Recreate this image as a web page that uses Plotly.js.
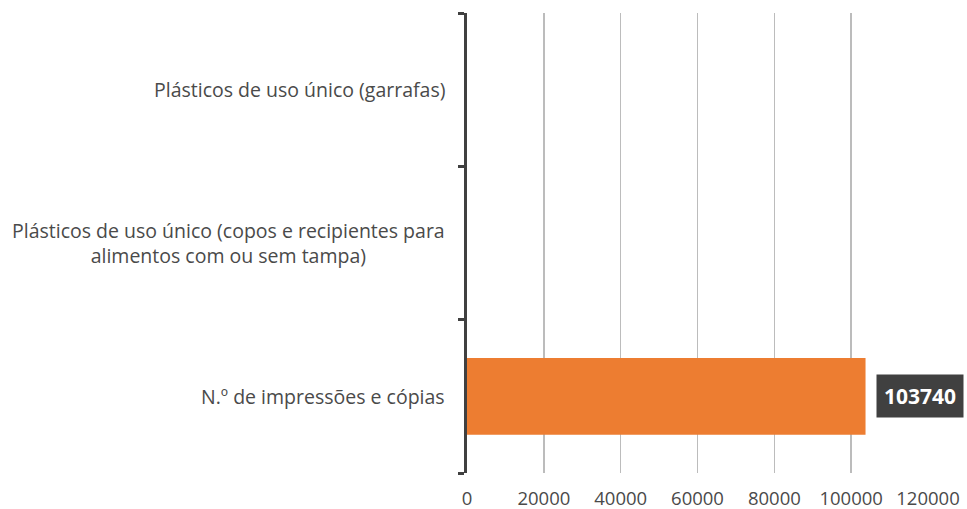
<!DOCTYPE html>
<html>
<head>
<meta charset="utf-8">
<script src="https://cdn.plot.ly/plotly-3.0.1.min.js"></script>
<style>
  html, body { margin: 0; padding: 0; background: #ffffff; }
  #chart { width: 967px; height: 509px; }
</style>
</head>
<body>
<div id="chart"></div>
<script>
// Indicator categories, listed bottom to top as they appear on the axis
const categories = [
  "N.º de impressões e cópias",
  "Plásticos de uso único (copos e recipientes para alimentos com ou sem tampa)",
  "Plásticos de uso único (garrafas)"
];
// Axis labels for the categories (long one wrapped onto two lines)
const categoryLabels = [
  "N.º de impressões e cópias",
  "Plásticos de uso único (copos e recipientes para<br>alimentos com ou sem tampa)",
  "Plásticos de uso único (garrafas)"
];
// Recorded quantities (blank where nothing was recorded)
const values = [103740, null, null];
// Value axis ticks
const xTicks = [0, 20000, 40000, 60000, 80000, 100000, 120000];

const textColor = "#4a4a4a";
const axisDark = "#404040";

const trace = {
  type: "bar",
  orientation: "h",
  y: categories,
  x: values,
  marker: { color: "#ED7D31", line: { width: 0 } },
  hoverinfo: "skip"
};

const annotations = [];

// Category labels: right-aligned block, lines centred within it
categories.forEach((c, i) => {
  annotations.push({
    x: 0, y: c, xref: "x", yref: "y",
    text: categoryLabels[i],
    showarrow: false,
    xanchor: "right", yanchor: "middle",
    align: "center",
    xshift: -20,
    font: { family: "Open Sans", size: 19.5, color: textColor }
  });
});

// Value labels in a dark callout box to the right of each bar
values.forEach((v, i) => {
  if (v === null) return;
  annotations.push({
    x: v, y: categories[i], xref: "x", yref: "y",
    text: "<b>" + v + "</b>",
    showarrow: false,
    xanchor: "left", yanchor: "middle",
    xshift: 10,
    bgcolor: "#404040",
    borderpad: 7,
    font: { family: "Open Sans", size: 21, color: "#ffffff" }
  });
});

const layout = {
  width: 967, height: 509,
  margin: { l: 467, r: 39, t: 13, b: 36, pad: 0 },
  paper_bgcolor: "#ffffff",
  plot_bgcolor: "#ffffff",
  showlegend: false,
  bargap: 0.5,
  font: { family: "Open Sans", color: textColor },
  xaxis: {
    range: [0, 120000],
    tickvals: xTicks,
    ticktext: xTicks.map(String),
    showgrid: true,
    gridcolor: "#bcbcbc",
    gridwidth: 1.5,
    zeroline: false,
    showline: false,
    ticks: "",
    ticklabelstandoff: 12,
    tickfont: { family: "Open Sans", size: 18.5, color: textColor },
    automargin: false,
    fixedrange: true
  },
  yaxis: {
    type: "category",
    categoryorder: "array",
    categoryarray: categories,
    range: [-0.5, 2.5],
    showgrid: false,
    zeroline: false,
    showline: true,
    linecolor: axisDark,
    linewidth: 3,
    ticks: "outside",
    tickson: "boundaries",
    ticklen: 6,
    tickwidth: 3,
    tickcolor: axisDark,
    showticklabels: false,
    automargin: false,
    fixedrange: true
  },
  annotations: annotations
};

Plotly.newPlot("chart", [trace], layout, { displayModeBar: false, staticPlot: true });
</script>
</body>
</html>
